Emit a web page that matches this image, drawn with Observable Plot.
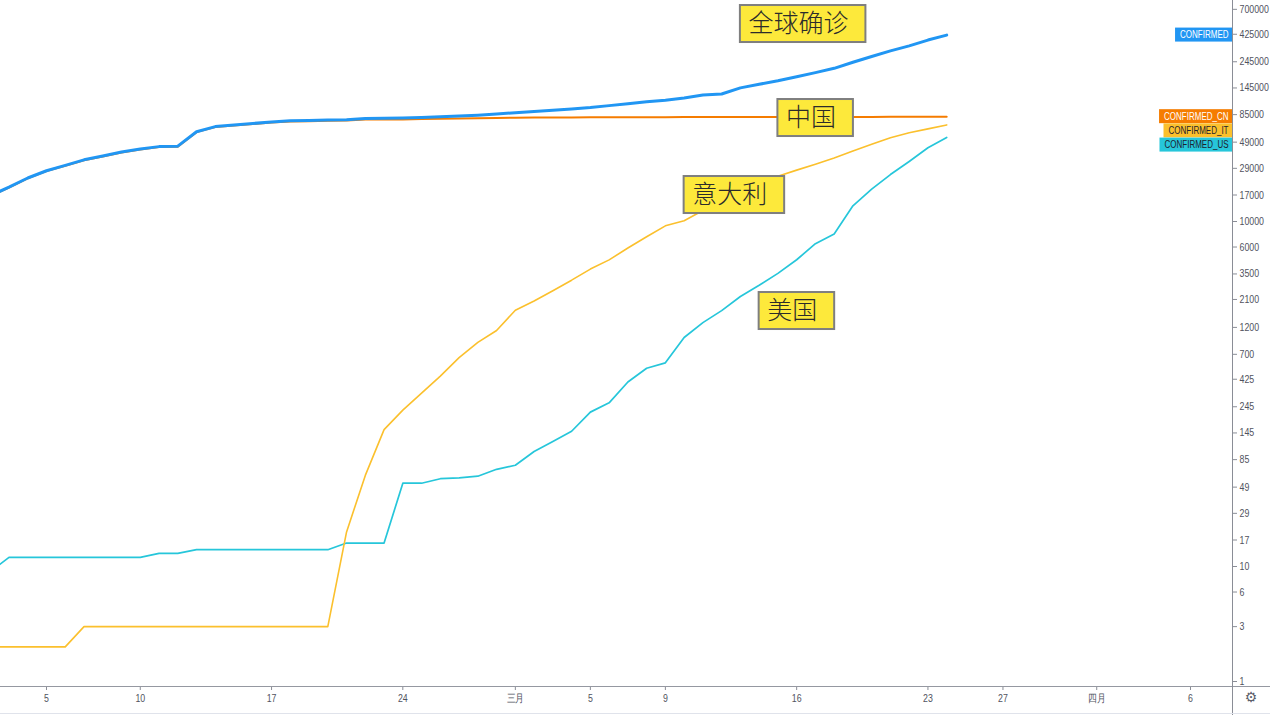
<!DOCTYPE html>
<html><head><meta charset="utf-8">
<script src="https://cdn.jsdelivr.net/npm/d3@7"></script>
<script src="https://cdn.jsdelivr.net/npm/@observablehq/plot@0.6"></script>
<style>
html,body{margin:0;padding:0;background:#fff;overflow:hidden}
#chart svg{display:block}
</style></head><body><div id="chart"></div>
<script>
// ---------- data ----------
const firstDay = "2020-02-01", lastDay = "2020-03-24";
const dates = d3.utcDay.range(new Date(firstDay), d3.utcDay.offset(new Date(lastDay), 1));

const confirmed = [12038,16787,19881,23892,27635,30794,34391,37120,40150,42762,44802,45221,60368,66885,69030,71224,73258,75136,75639,76197,76819,78572,78958,79561,80406,81388,82746,84112,86011,
  88369,90306,92840,95120,97886,101801,105847,109821,113590,118620,125875,128352,145205,156101,167454,181574,197102,214821,242570,272208,304507,336953,378235,418045];
const confirmedCN = [11891,16630,19716,23707,27440,30587,34110,36814,39829,42354,44386,44759,59895,66358,68413,70513,72434,74211,74619,75077,75550,77001,77022,77241,77754,78166,78600,78928,79356,
  79932,80136,80261,80386,80537,80690,80770,80823,80860,80887,80921,80932,80945,80977,81003,81033,81058,81102,81156,81250,81305,81435,81498,81591];
const confirmedIT = [2,2,2,2,2,2,3,3,3,3,3,3,3,3,3,3,3,3,3,3,20,62,155,229,322,453,655,888,1128,
  1694,2036,2502,3089,3858,4636,5883,7375,9172,10149,12462,12462,17660,21157,24747,27980,31506,35713,41035,47021,53578,59138,63927,69176];
const confirmedUS = [8,9,12,12,12,12,12,12,12,12,13,13,14,14,14,14,14,14,14,14,16,16,16,53,53,58,59,61,70,
  76,100,122,150,220,265,402,530,590,980,1320,1680,2230,2790,3540,4650,6420,7800,13700,19100,25600,33300,43800,53900];

const seriesNames = ["CONFIRMED","CONFIRMED_CN","CONFIRMED_IT","CONFIRMED_US"];

const xTickDates = ["2020-02-05","2020-02-10","2020-02-17","2020-02-24","2020-03-01","2020-03-05","2020-03-09","2020-03-16","2020-03-23","2020-03-27","2020-04-01","2020-04-06"];
const xTickLabels = ["5","10","17","24","三月","5","9","16","23","27","四月","6"];
const yTicks = [1,3,6,10,17,29,49,85,145,245,425,700,1200,2100,3500,6000,10000,17000,29000,49000,85000,145000,245000,425000,700000];

const noteTexts = ["全球确诊","中国","意大利","美国"];
const noteDates = ["2020-03-13","2020-03-15","2020-03-10","2020-03-14"];
const noteValues = [521700,79430,17000,1666];

// ---------- style ----------
const W = 1270, H = 715, MR = 38, MB = 29;
const lineColors = ["#2196f3","#f57c00","#fbc02d","#26c6da"];
const lineWidths = [3,2,1.6,1.7];
const labelFills = ["#2196f3","#f57c00","#fbc02d","#26c6da"];
const labelText = ["#ffffff","#ffffff","#1e222d","#1e222d"];
const axisFont = "'Liberation Sans', Arial, sans-serif";
const axisSize = 11, labSize = 10, squeeze = 0.8;

const xDomain = [new Date("2020-02-02T13:08:00Z"), new Date("2020-04-08T05:45:00Z")];
const yDomain = [0.9048, 835400];
const yScale = Plot.scale({y:{type:"log", domain:yDomain, range:[H-MB, 0]}});
const xScale = Plot.scale({x:{type:"utc", domain:xDomain, range:[0, W-MR]}});

// ---------- tables ----------
const seriesValues = [confirmed, confirmedCN, confirmedIT, confirmedUS];
const rows = seriesValues.map((vals,k) => dates.map((d,i) => ({date:d, value:vals[i], series:seriesNames[k]})));

// right-edge labels with simple collision avoidance (box height 14px)
const labels = seriesNames.map((n,k) => ({name:n, k, value:seriesValues[k][seriesValues[k].length-1]}));
labels.forEach(l => l.py = yScale.apply(l.value));
const sorted = [...labels].sort((a,b)=>a.py-b.py);
let prev = -Infinity;
for (const l of sorted){ l.adj = Math.max(l.py, prev + 14.2); prev = l.adj; l.pos = yScale.invert(l.adj); }

const notes = noteTexts.map((t,i)=>({text:t, date:new Date(noteDates[i]), value:noteValues[i]}));
const tickMap = new Map(xTickDates.map((d,i)=>[+new Date(d), xTickLabels[i]]));

const drawOrder = [3,2,1,0];

const svg = Plot.plot({
  width: W, height: H,
  marginLeft: 0, marginRight: MR, marginTop: 0, marginBottom: MB,
  style: {fontFamily: axisFont, fontSize: axisSize + "px", background: "#fff", color: "#50535e"},
  x: {type:"utc", domain: xDomain, range:[0, W-MR]},
  y: {type:"log", domain: yDomain, range:[H-MB, 0]},
  marks: [
    ...drawOrder.map(k => Plot.line(rows[k], {x:"date", y:"value", stroke:lineColors[k], strokeWidth:lineWidths[k], strokeLinejoin:"round", strokeLinecap:"round", clip:true})),
    Plot.axisY({anchor:"right", ticks: yTicks, tickFormat: () => "", tickSize:4, tickPadding:4, stroke:"#8a8d96", label: null}),
    Plot.text(yTicks, {y: d => d, text: d => String(d), frameAnchor:"right", textAnchor:"start", lineAnchor:"middle", dx:7, fill:"#50535e", fontSize: axisSize, fontFamily: axisFont}),
    Plot.axisX({anchor:"bottom", ticks: xTickDates.map(d=>new Date(d)), tickFormat: d => tickMap.get(+d), tickSize:4, tickPadding:4, stroke:"#8a8d96", fill:"#50535e", fontSize: axisSize, fontFamily: axisFont, label: null}),
    ...labels.map(l => Plot.text([l], {y:"pos", text:"name", frameAnchor:"right", textAnchor:"end", lineAnchor:"middle", dx:-4, fill: labelText[l.k], fontSize: labSize, fontFamily: axisFont})),
    Plot.text(notes, {x:"date", y:"value", text:"text", textAnchor:"start", lineAnchor:"middle", dx:8, fontSize:25, fontWeight:300, fill:"#2b2b2b", fontFamily:"'Noto Sans CJK SC', sans-serif"})
  ]
});

document.getElementById("chart").append(svg);

// ---------- chrome & boxes ----------
const NS = "http://www.w3.org/2000/svg";
function el(tag, attrs){ const e = document.createElementNS(NS, tag); for (const k in attrs) e.setAttribute(k, attrs[k]); return e; }
const sRect = svg.getBoundingClientRect();
const texts = [...svg.querySelectorAll("text")];

// narrow the small axis / label texts (TradingView-like condensed face)
texts.forEach(t => {
  if (noteTexts.includes(t.textContent) || !t.textContent) return;
  const L = t.getComputedTextLength();
  if (L > 0) { t.setAttribute("textLength", (L*squeeze).toFixed(2)); t.setAttribute("lengthAdjust", "spacingAndGlyphs"); }
});

// right labels boxes
const labGroup = el("g", {});
labels.forEach(l => {
  const t = texts.find(t => t.textContent === l.name);
  if (!t) return;
  const b = t.getBoundingClientRect();
  const x0 = b.left - sRect.left - 5, x1 = W - MR;
  labGroup.append(el("rect", {x:x0, y:l.adj-7, width:x1-x0, height:14, fill:labelFills[l.k]}));
});
const firstLab = texts.find(t => t.textContent === labels[0].name);
if (firstLab) { const g = firstLab.closest("g"); g.parentNode.insertBefore(labGroup, g); }

// annotation boxes
const noteGroup = el("g", {});
notes.forEach(n => {
  const t = texts.find(t => t.textContent === n.text);
  if (!t) return;
  const b = t.getBoundingClientRect();
  const x0 = xScale.apply(n.date), yc = yScale.apply(n.value);
  const x1 = b.right - sRect.left + 17;
  noteGroup.append(el("rect", {x:x0, y:yc-18.5, width:x1-x0, height:37, fill:"#fde93b", stroke:"#7f7f7f", "stroke-width":2}));
});
const firstNote = texts.find(t => t.textContent === noteTexts[0]);
if (firstNote) { const g = firstNote.closest("g"); g.parentNode.insertBefore(noteGroup, g); }

// axis lines
svg.append(el("line", {x1:0, x2:W, y1:H-MB+0.5, y2:H-MB+0.5, stroke:"#9598a1", "stroke-width":1}));
svg.append(el("line", {x1:W-MR+0.5, x2:W-MR+0.5, y1:0, y2:H, stroke:"#8a8d96", "stroke-width":1}));
svg.append(el("line", {x1:0, x2:W, y1:H-1.5, y2:H-1.5, stroke:"#e0e3eb", "stroke-width":1}));
const gear = el("text", {x:(W + (W-MR))/2, y:H-MB+12, "text-anchor":"middle", "dominant-baseline":"middle", fill:"#5d606b", "font-size":14, "font-family":"'DejaVu Sans', sans-serif"});
gear.textContent = "⚙";
svg.append(gear);
</script>
</body></html>
